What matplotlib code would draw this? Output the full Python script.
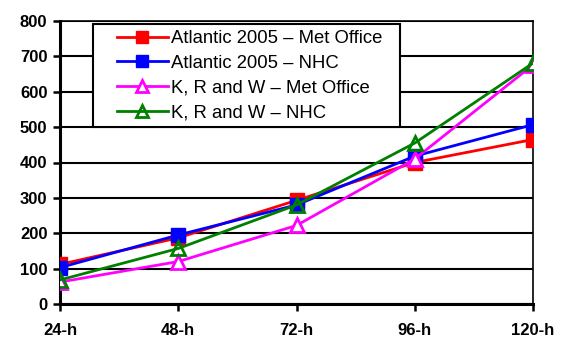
import matplotlib
matplotlib.use("Agg")
import matplotlib.pyplot as plt
from matplotlib.patches import Rectangle

categories = ["24-h", "48-h", "72-h", "96-h", "120-h"]
atl_met = [112, 187, 293, 400, 465]
atl_nhc = [103, 195, 280, 418, 507]
krw_met = [62, 120, 222, 410, 676]
krw_nhc = [68, 157, 280, 455, 681]
yticks = [0, 100, 200, 300, 400, 500, 600, 700, 800]

plt.rcParams['font.family'] = ['Liberation Sans', 'DejaVu Sans']

W, H = 563, 341
fig = plt.figure(figsize=(W/100, H/100), dpi=100)
ax = fig.add_axes([60/W, 1-304/H, (533-60)/W, (304-21)/H])

x = list(range(len(categories)))
kw = dict(lw=2, ms=10.5)
ax.plot(x, atl_met, color='#ff0000', marker='s', mfc='#ff0000', mec='#ff0000', label='Atlantic 2005 – Met Office', zorder=3, **kw)
ax.plot(x, atl_nhc, color='#0000ff', marker='s', mfc='#0000ff', mec='#0000ff', label='Atlantic 2005 – NHC', zorder=4, **kw)
ax.plot(x, krw_met, color='#ff00ff', marker='^', mfc='white', mec='#ff00ff', mew=2, label='K, R and W – Met Office', zorder=5, **kw)
ax.plot(x, krw_nhc, color='#008000', marker='^', mfc='none', mec='#008000', mew=2, label='K, R and W – NHC', zorder=6, **kw)

ax.set_xlim(0, 4)
ax.set_ylim(0, 800)
ax.set_yticks(yticks)
ax.set_xticks(x)
ax.set_xticklabels(categories)
ax.yaxis.grid(True, color='black', lw=1.5)
ax.set_axisbelow(True)
for s in ax.spines.values():
    s.set_linewidth(1.2)
ax.spines['left'].set_linewidth(2.2)
ax.spines['bottom'].set_linewidth(2.2)
ax.tick_params(axis='both', direction='out', length=5, width=1.8, labelsize=12, pad=4)
for lab in ax.get_xticklabels() + ax.get_yticklabels():
    lab.set_fontweight('bold')
ax.tick_params(axis='x', pad=9)

# legend box
box = Rectangle((93/W, 1-127/H), (400-93)/W, (127-24)/H, transform=fig.transFigure,
                facecolor='white', edgecolor='black', lw=1.5, zorder=9)
fig.add_artist(box)
leg = fig.legend(*ax.get_legend_handles_labels(), loc='upper left',
                 bbox_to_anchor=(117/W, 1-30/H), frameon=False,
                 fontsize=13.3, handlelength=2.75, markerscale=0.85,
                 borderpad=0, labelspacing=0.43, handletextpad=0.2, borderaxespad=0)
leg.set_zorder(10)

fig.savefig("out.png", dpi=100)
